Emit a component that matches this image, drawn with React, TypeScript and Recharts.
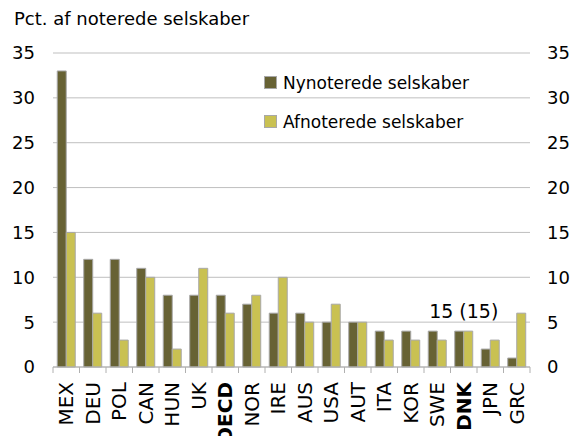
import { ComposedChart, Bar, Line, XAxis, YAxis, CartesianGrid, ReferenceDot } from 'recharts';

const countries = ['MEX', 'DEU', 'POL', 'CAN', 'HUN', 'UK', 'OECD', 'NOR', 'IRE', 'AUS', 'USA', 'AUT', 'ITA', 'KOR', 'SWE', 'DNK', 'JPN', 'GRC'];
const nynoterede = [33, 12, 12, 11, 8, 8, 8, 7, 6, 6, 5, 5, 4, 4, 4, 4, 2, 1];
const afnoterede = [15, 6, 3, 10, 2, 11, 6, 8, 10, 5, 7, 5, 3, 3, 3, 4, 3, 6];
const yTicks = [0, 5, 10, 15, 20, 25, 30, 35];
const boldLabels = ['OECD', 'DNK'];
const note = { country: 'DNK', value: 5.45, text: '15 (15)' };

const data = countries.map((c, i) => ({ name: c, ny: nynoterede[i], af: afnoterede[i] }));

const FONT = '"DejaVu Sans", sans-serif';
const DARK = '#676234';
const LIGHT = '#C9C152';
const W = 570;
const H = 436;
const LEFT_W = 53;
const RIGHT_W = 40;
const BAND = (W - LEFT_W - RIGHT_W) / countries.length;

function CountryTick(props: any) {
  const { x, y, payload, index } = props;
  const half = payload.offset || BAND / 2;
  const axisY = y - 15;
  const bold = boldLabels.includes(payload.value);
  return (
    <g>
      <line x1={x - half} x2={x - half} y1={axisY} y2={axisY + 6} stroke="#B0B0B0" />
      {index === countries.length - 1 && (
        <line x1={x + half} x2={x + half} y1={axisY} y2={axisY + 6} stroke="#B0B0B0" />
      )}
      <text
        x={x}
        y={y}
        transform={`rotate(-90, ${x}, ${y})`}
        textAnchor="end"
        dy="0.36em"
        fontFamily={FONT}
        fontSize={20}
        fontWeight={bold ? 'bold' : 'normal'}
        fill="#000"
      >
        {payload.value}
      </text>
    </g>
  );
}

function NoteShape(props: any) {
  return (
    <text x={props.cx} y={props.cy} textAnchor="middle" fontFamily={FONT} fontSize={19} fill="#000">
      {note.text}
    </text>
  );
}

export default function App() {
  const tickStyle = { fill: '#000', fontSize: 18, fontFamily: FONT };
  return (
    <div style={{ position: 'absolute', left: 0, top: 0, width: W, height: H, background: '#fff' }}>
      <div style={{ position: 'absolute', left: 14, top: 8, fontFamily: FONT, fontSize: 18, color: '#000' }}>
        Pct. af noterede selskaber
      </div>
      <ComposedChart
        width={W}
        height={H}
        data={data}
        margin={{ top: 53, right: 0, bottom: 0, left: 0 }}
        barCategoryGap="16%"
        barGap={0}
      >
        <CartesianGrid horizontal vertical={false} stroke="#BFBFBF" yAxisId="left" />
        <XAxis
          dataKey="name"
          interval={0}
          height={69}
          axisLine={{ stroke: '#B0B0B0' }}
          tickLine={false}
          tickSize={0}
          tickMargin={15}
          tick={<CountryTick />}
        />
        <YAxis
          yAxisId="left"
          domain={[0, 35]}
          ticks={yTicks}
          width={LEFT_W}
          axisLine={false}
          tickLine={false}
          tickSize={0}
          tickMargin={18}
          tick={tickStyle}
        />
        <YAxis
          yAxisId="right"
          orientation="right"
          domain={[0, 35]}
          ticks={yTicks}
          width={RIGHT_W}
          axisLine={false}
          tickLine={false}
          tickSize={0}
          tickMargin={17}
          tick={{ ...tickStyle, textAnchor: 'start' }}
        />
        <Bar yAxisId="left" dataKey="ny" fill={DARK} stroke="#A8A8A8" strokeWidth={1} isAnimationActive={false} />
        <Bar yAxisId="left" dataKey="af" fill={LIGHT} stroke="#A8A8A8" strokeWidth={1} isAnimationActive={false} />
        <Line
          yAxisId="right"
          dataKey="ny"
          stroke="none"
          dot={false}
          activeDot={false}
          legendType="none"
          isAnimationActive={false}
        />
        <ReferenceDot yAxisId="left" x={note.country} y={note.value} r={0} shape={<NoteShape />} />
      </ComposedChart>
      <div style={{ position: 'absolute', left: 264, top: 71, fontFamily: FONT, fontSize: 17, color: '#000' }}>
        {[
          { label: 'Nynoterede selskaber', color: DARK },
          { label: 'Afnoterede selskaber', color: LIGHT },
        ].map((item) => (
          <div key={item.label} style={{ display: 'flex', alignItems: 'center', height: 23, marginBottom: 16 }}>
            <span style={{ width: 11, height: 11, background: item.color, border: '1px solid #A8A8A8', marginRight: 6 }} />
            <span>{item.label}</span>
          </div>
        ))}
      </div>
    </div>
  );
}
